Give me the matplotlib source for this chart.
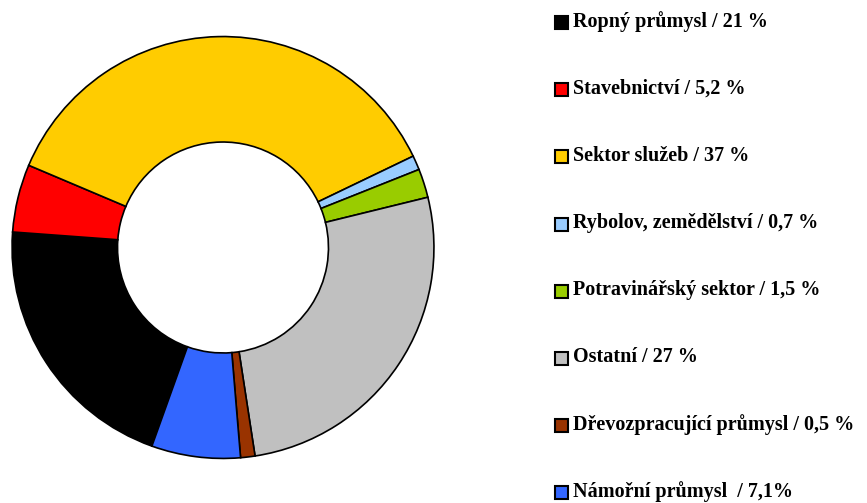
import matplotlib
matplotlib.use("Agg")
import matplotlib.pyplot as plt
from matplotlib.patches import Rectangle

labels = ["Ropný průmysl / 21 %", "Stavebnictví / 5,2 %", "Sektor služeb / 37 %",
          "Rybolov, zemědělství / 0,7 %", "Potravinářský sektor / 1,5 %",
          "Ostatní / 27 %", "Dřevozpracující průmysl / 0,5 %", "Námořní průmysl  / 7,1%"]
values = [20.7, 5.2, 36.5, 1.1, 2.2, 26.4, 1.1, 6.8]
colors = ["#000000", "#FF0000", "#FFCC00", "#99CCFF", "#99CC00", "#C0C0C0", "#993300", "#3366FF"]

W, H = 867, 503
fig = plt.figure(figsize=(W/100, H/100), dpi=100)
cx, cy, r = 223, 247.5, 212
ax = fig.add_axes([(cx - r)/W, (H - cy - r)/H, 2*r/W, 2*r/H])
ax.pie(values, colors=colors, startangle=-109.7, counterclock=False, radius=1,
       wedgeprops=dict(width=0.5, edgecolor="black", linewidth=1.2))
ax.set_xlim(-1.005, 1.005)
ax.set_ylim(-1.005, 1.005)
ax.set_aspect("equal")
ax.axis("off")

y0, dy = 22.7, 67.1
sq = 13
for i, (lab, col) in enumerate(zip(labels, colors)):
    yc = y0 + i*dy
    fig.patches.append(Rectangle(((555)/W, (H - yc - sq/2)/H), sq/W, sq/H,
                                 transform=fig.transFigure, facecolor=col,
                                 edgecolor="black", linewidth=1.5))
    fig.text(573/W, (H - yc + 1)/H, lab, ha="left", va="center",
             fontsize=14.5, fontweight="bold", family="Liberation Serif", color="black")

fig.savefig("out.png", dpi=100)
